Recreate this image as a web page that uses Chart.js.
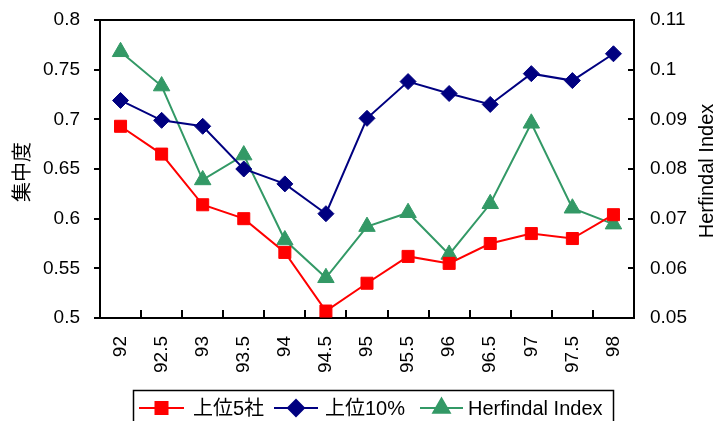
<!DOCTYPE html>
<html lang="ja">
<head>
<meta charset="UTF-8">
<script src="https://cdn.jsdelivr.net/npm/chart.js"></script>
<style>
    body { margin: 0; background: #fff; }
    #wrap { width: 721px; height: 421px; }
</style>
</head>
<body>
<div id="wrap"><canvas id="chart" width="721" height="421"></canvas></div>
<script>
// years (fiscal, half-year steps)
const categories = ['92', '92.5', '93', '93.5', '94', '94.5', '95', '95.5', '96', '96.5', '97', '97.5', '98'];
// 上位5社 (left axis)
const top5 = [0.693, 0.665, 0.614, 0.600, 0.566, 0.507, 0.535, 0.562, 0.555, 0.575, 0.585, 0.580, 0.604];
// 上位10% (left axis)
const top10 = [0.719, 0.699, 0.693, 0.650, 0.635, 0.605, 0.701, 0.738, 0.726, 0.715, 0.746, 0.739, 0.766];
// Herfindal Index (right axis)
const herfindal = [0.1036, 0.0967, 0.0778, 0.0828, 0.0657, 0.0581, 0.0684, 0.0712, 0.0628, 0.0730, 0.0892, 0.0721, 0.0689];

const seriesNames = ['上位5社', '上位10%', 'Herfindal Index'];
const leftTitle = '集中度';
const rightTitle = 'Herfindal Index';

const RED = '#ff0000', NAVY = '#000080', GREEN = '#339966';
const LATIN = '"Liberation Sans", Arial, sans-serif';
const CJK = '"Liberation Sans", "Noto Sans CJK JP", sans-serif';

Chart.defaults.font.family = LATIN;
Chart.defaults.font.size = 19;
Chart.defaults.color = '#000';

const fmt = v => String(Number(v.toFixed(3)));

// fixed axis sizes so the plot area sits where the original one does
function fixY(width) {
    return s => { s.width = width; s.paddingTop = 0; s.paddingBottom = 0; };
}

// extras: inner tick marks, top border, axis titles, boxed legend
const extras = {
    id: 'extras',
    afterDraw(chart) {
        const ctx = chart.ctx;
        const a = chart.chartArea;
        const y1 = chart.scales.y1;
        ctx.save();
        ctx.strokeStyle = '#000';
        ctx.lineWidth = 2;
        ctx.beginPath();
        // top border of plot area
        ctx.moveTo(a.left, a.top);
        ctx.lineTo(a.right, a.top);
        // x ticks between categories (inside)
        const step = (a.right - a.left) / categories.length;
        for (let i = 1; i < categories.length; i++) {
            const x = Math.round(a.left + i * step);
            ctx.moveTo(x, a.bottom);
            ctx.lineTo(x, a.bottom - 8);
        }
        // right axis ticks (inside)
        y1.ticks.forEach(t => {
            const y = Math.round(y1.getPixelForValue(t.value));
            ctx.moveTo(a.right, y);
            ctx.lineTo(a.right - 6, y);
        });
        ctx.stroke();

        // axis titles
        ctx.fillStyle = '#000';
        ctx.textAlign = 'center';
        ctx.textBaseline = 'middle';
        ctx.save();
        ctx.translate(21, 172);
        ctx.rotate(-Math.PI / 2);
        ctx.font = '20px "Noto Sans CJK JP", sans-serif';
        ctx.fillText(leftTitle, 0, 0);
        ctx.restore();
        ctx.save();
        ctx.translate(707, 171);
        ctx.rotate(-Math.PI / 2);
        ctx.font = '20px ' + LATIN;
        ctx.fillText(rightTitle, 0, 0);
        ctx.restore();

        // legend box
        ctx.lineWidth = 1.5;
        ctx.strokeRect(133.5, 390.5, 480, 40);
        const items = [
            { x0: 139, x1: 184, text: 193, color: RED, style: 'rect', r: 8.5 },
            { x0: 274, x1: 318, text: 325, color: NAVY, style: 'rectRot', r: 8 },
            { x0: 420, x1: 463, text: 468, color: GREEN, style: 'triangle', r: 9.5 }
        ];
        const ly = 408;
        ctx.textAlign = 'left';
        ctx.font = '20px ' + CJK;
        items.forEach((it, i) => {
            ctx.strokeStyle = it.color;
            ctx.fillStyle = it.color;
            ctx.lineWidth = 2;
            ctx.beginPath();
            ctx.moveTo(it.x0, ly);
            ctx.lineTo(it.x1, ly);
            ctx.stroke();
            Chart.helpers.drawPoint(ctx, { pointStyle: it.style, radius: it.r, rotation: 0, borderWidth: 1 }, (it.x0 + it.x1) / 2, ly);
            ctx.fillStyle = '#000';
            ctx.fillText(seriesNames[i], it.text, ly + 1);
        });
        ctx.restore();
    }
};

new Chart(document.getElementById('chart'), {
    type: 'line',
    data: {
        labels: categories,
        datasets: [
            { label: seriesNames[0], data: top5, yAxisID: 'y', borderColor: RED, backgroundColor: RED,
              pointStyle: 'rect', pointRadius: 8.5, pointBorderWidth: 1 },
            { label: seriesNames[1], data: top10, yAxisID: 'y', borderColor: NAVY, backgroundColor: NAVY,
              pointStyle: 'rectRot', pointRadius: 8, pointBorderWidth: 1 },
            { label: seriesNames[2], data: herfindal, yAxisID: 'y1', borderColor: GREEN, backgroundColor: GREEN,
              pointStyle: 'triangle', pointRadius: 9.5, pointBorderWidth: 1 }
        ]
    },
    options: {
        responsive: false,
        animation: false,
        devicePixelRatio: 1,
        layout: { padding: { top: 20, left: 0, right: 0, bottom: 0 } },
        elements: { line: { borderWidth: 2, tension: 0 } },
        plugins: { legend: { display: false }, tooltip: { enabled: false } },
        scales: {
            x: {
                offset: true,
                grid: { display: false, drawTicks: false },
                border: { color: '#000', width: 2 },
                ticks: { maxRotation: 90, minRotation: 90, padding: 18 },
                afterFit(s) { s.height = 103; s.paddingLeft = 0; s.paddingRight = 0; }
            },
            y: {
                position: 'left',
                min: 0.5, max: 0.8,
                ticks: { stepSize: 0.05, padding: 14, callback: v => fmt(v) },
                grid: { drawOnChartArea: false, drawTicks: true, tickLength: 6, color: '#000', lineWidth: 2 },
                border: { color: '#000', width: 2 },
                afterFit: fixY(100)
            },
            y1: {
                position: 'right',
                min: 0.05, max: 0.11,
                ticks: { stepSize: 0.01, padding: 16, callback: v => fmt(v) },
                grid: { display: false, drawTicks: false },
                border: { color: '#000', width: 2 },
                afterFit: fixY(87)
            }
        }
    },
    plugins: [extras]
});
</script>
</body>
</html>
